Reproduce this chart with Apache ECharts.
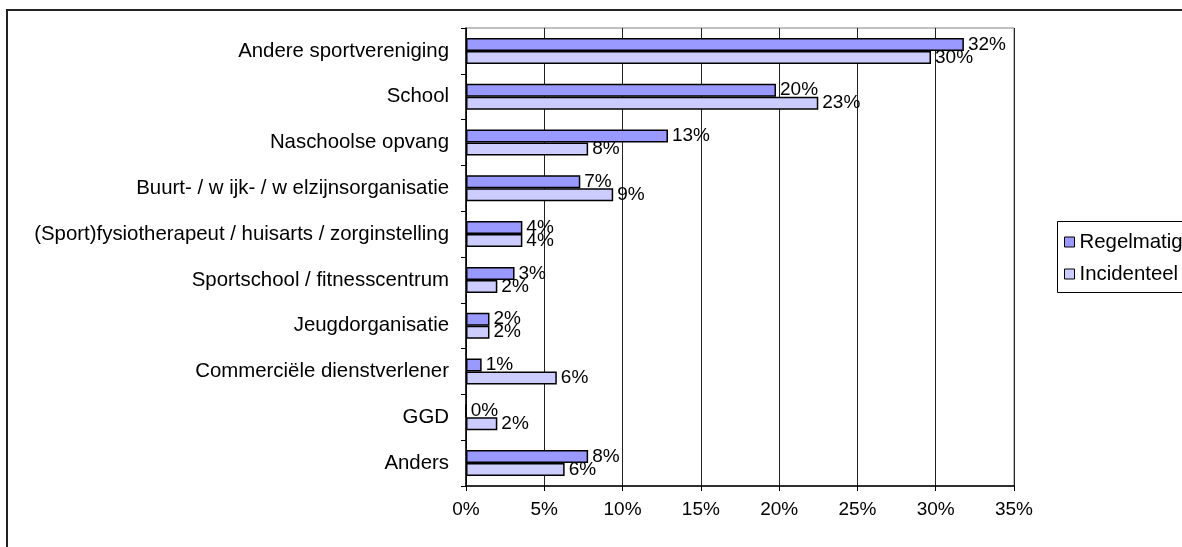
<!DOCTYPE html>
<html>
<head>
<meta charset="utf-8">
<script src="https://cdn.jsdelivr.net/npm/echarts@6/dist/echarts.min.js"></script>
<style>
html,body{margin:0;padding:0;background:#fff;}
#c{width:1182px;height:547px;}
</style>
</head>
<body>
<div id="c"></div>
<script>
const categories = [
  "Andere sportvereniging",
  "School",
  "Naschoolse opvang",
  "Buurt- / w ijk- / w elzijnsorganisatie",
  "(Sport)fysiotherapeut / huisarts / zorginstelling",
  "Sportschool / fitnesscentrum",
  "Jeugdorganisatie",
  "Commerciële dienstverlener",
  "GGD",
  "Anders"
];
const regelmatig = [31.8, 19.8, 12.9, 7.3, 3.6, 3.1, 1.5, 1.0, 0, 7.8];
const incidenteel = [29.7, 22.5, 7.8, 9.4, 3.6, 2.0, 1.5, 5.8, 2.0, 6.3];
const seriesNames = ["Regelmatig", "Incidenteel"];
const xTicks = [0, 5, 10, 15, 20, 25, 30, 35];

const FONT = "'Liberation Sans', Arial, sans-serif";
const FS = 19;
const chart = echarts.init(document.getElementById('c'), null, {renderer: 'canvas'});

function mkSeries(name, data, color) {
  return {
    name: name,
    type: 'bar',
    data: data,
    barWidth: 13,
    barGap: '0%',
    barCategoryGap: '43%',
    itemStyle: {color: color, borderColor: '#000', borderWidth: 1.5},
    label: {
      show: true, position: 'right', distance: 4,
      fontFamily: FONT, fontSize: FS, color: '#000',
      formatter: p => Math.round(p.value) + '%'
    },
    emphasis: {disabled: true},
    animation: false
  };
}

chart.setOption({
  animation: false,
  backgroundColor: '#fff',
  textStyle: {fontFamily: FONT},
  grid: {left: 466, top: 28, right: 168, bottom: 61, show: true, borderColor: '#808080', borderWidth: 1},
  xAxis: {
    type: 'value', min: xTicks[0], max: xTicks[xTicks.length - 1], interval: 5,
    axisLine: {show: true, lineStyle: {color: '#000', width: 1.5}},
    axisTick: {show: true, length: 5, lineStyle: {color: '#000'}},
    axisLabel: {fontFamily: FONT, fontSize: FS, color: '#000', margin: 14, formatter: v => v + '%'},
    splitLine: {show: true, lineStyle: {color: '#222', width: 1}}
  },
  yAxis: {
    type: 'category', data: categories, inverse: true,
    axisLine: {show: true, lineStyle: {color: '#000', width: 1.5}},
    axisTick: {show: true, length: 5, lineStyle: {color: '#000'}},
    axisLabel: {fontFamily: FONT, fontSize: 20.4, color: '#000', margin: 17},
    splitLine: {show: false}
  },
  legend: {
    orient: 'vertical', left: 1059, top: 227, itemWidth: 10, itemHeight: 10, itemGap: 12,
    icon: 'rect',
    textStyle: {fontFamily: FONT, fontSize: 20.4, color: '#000'},
    itemStyle: {borderColor: '#000', borderWidth: 1},
    data: seriesNames
  },
  graphic: [
    {type: 'rect', shape: {x: 7, y: 10, width: 1400, height: 800}, style: {fill: 'none', stroke: '#222', lineWidth: 2}, silent: true},
    {type: 'rect', shape: {x: 1057.5, y: 221.5, width: 200, height: 71}, style: {fill: 'none', stroke: '#000', lineWidth: 1}, silent: true}
  ],
  series: [
    mkSeries(seriesNames[0], regelmatig, '#9999FF'),
    mkSeries(seriesNames[1], incidenteel, '#CCCCFF')
  ]
});
</script>
</body>
</html>
